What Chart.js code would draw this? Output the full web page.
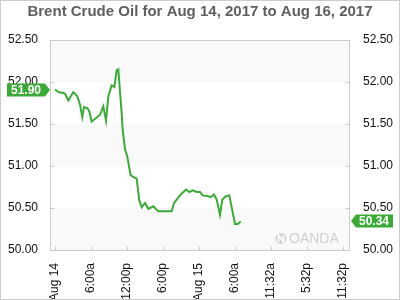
<!DOCTYPE html>
<html>
<head>
<meta charset="utf-8">
<script src="https://cdn.jsdelivr.net/npm/chart.js@4"></script>
<style>
  html, body { margin: 0; padding: 0; background: #fff; }
  #wrap { width: 400px; height: 300px; }
</style>
</head>
<body>
<div id="wrap"><canvas id="myChart" width="400" height="300"></canvas></div>
<script>
// hours since Aug 14 00:00 and Brent price
const hours = [0, 0.55, 1.39, 1.67, 2.22, 3.05, 3.72, 4.17, 4.55, 4.83, 5.39, 5.72, 6.11, 6.67, 7.5, 8.05, 8.5, 8.89,
  9.45, 9.89, 10.28, 10.55, 11.11, 11.28, 11.67, 12.05, 12.61, 13.05, 13.61, 14.05, 14.45, 15.0, 15.55, 16.39, 17.22,
  19.45, 19.83, 20.83, 21.83, 22.39, 22.95, 23.61, 24.17, 24.61, 25.55, 25.95, 26.5, 26.95, 27.5, 27.89, 28.5, 29.05,
  30.0, 30.45, 30.95]
const prices = [51.91, 51.88, 51.87, 51.86, 51.78, 51.88, 51.83, 51.73, 51.58, 51.70, 51.69, 51.65, 51.53, 51.56, 51.61,
  51.71, 51.54, 51.83, 51.96, 51.94, 52.14, 52.15, 51.63, 51.43, 51.20, 51.11, 50.89, 50.87, 50.85, 50.59, 50.51, 50.56,
  50.49, 50.52, 50.46, 50.46, 50.56, 50.65, 50.72, 50.69, 50.71, 50.69, 50.69, 50.65, 50.64, 50.63, 50.66, 50.60, 50.42,
  50.60, 50.64, 50.65, 50.31, 50.31, 50.34]
const tickHours = [0, 6, 12, 18, 24, 30, 36, 42, 48]
const tickLabels = ["Aug 14", "6:00a", "12:00p", "6:00p", "Aug 15", "6:00a", "11:32a", "5:32p", "11:32p"]
const firstLabel = "51.90"
const lastLabel = "50.34"

const green = "#3aab35"
const font = "'Liberation Sans', Arial, sans-serif"

const decorPlugin = {
  id: "decor",
  beforeDraw(chart) {
    const { ctx, chartArea: a, scales } = chart
    ctx.save()
    ctx.fillStyle = "#fff"
    ctx.fillRect(0, 0, chart.width, chart.height)
    // alternating bands
    const y = scales.y
    const bands = [[52, 52.5], [51, 51.5], [50, 50.5]]
    ctx.fillStyle = "#f9f9f9"
    bands.forEach(([lo, hi]) => {
      const top = y.getPixelForValue(hi)
      const bot = y.getPixelForValue(lo)
      ctx.fillRect(a.left, top, a.right - a.left, bot - top)
    })
    ctx.restore()
  },
  beforeDatasetsDraw(chart) {
    const { ctx, chartArea: a, scales } = chart
    ctx.save()
    // watermark
    ctx.fillStyle = "#d4d4d4"
    ctx.beginPath()
    ctx.arc(281, 238.5, 5.5, 0, Math.PI * 2)
    ctx.fill()
    ctx.strokeStyle = "#fff"
    ctx.lineWidth = 1.6
    ctx.beginPath()
    ctx.moveTo(278.5, 242)
    ctx.lineTo(278.5, 235)
    ctx.lineTo(283.5, 242)
    ctx.lineTo(283.5, 235)
    ctx.stroke()
    ctx.fillStyle = "#d0d0d0"
    ctx.font = "14px " + font
    ctx.textBaseline = "middle"
    ctx.textAlign = "left"
    ctx.fillText("OANDA", 289, 239)
    // plot frame
    ctx.strokeStyle = "#cccccc"
    ctx.lineWidth = 1
    const L = Math.round(a.left) + 0.5
    const R = Math.round(a.right) - 0.5
    const T = Math.round(a.top) + 0.5
    const B = Math.round(a.bottom) + 0.5
    ctx.strokeRect(L, T, R - L, B - T)
    // inward tick marks
    ctx.beginPath()
    scales.y.ticks.forEach((t) => {
      const py = Math.round(scales.y.getPixelForValue(t.value)) + 0.5
      ctx.moveTo(L, py)
      ctx.lineTo(L + 4, py)
      ctx.moveTo(R, py)
      ctx.lineTo(R - 4, py)
    })
    scales.x.ticks.forEach((t) => {
      const px = Math.round(scales.x.getPixelForValue(t.value)) + 0.5
      ctx.moveTo(px, B)
      ctx.lineTo(px, B - 4)
    })
    ctx.stroke()
    ctx.restore()
  },
  afterDraw(chart) {
    const { ctx, chartArea: a, scales } = chart
    const y = scales.y
    ctx.save()
    // outer frame
    ctx.strokeStyle = "#cccccc"
    ctx.lineWidth = 1
    ctx.strokeRect(0.5, 0.5, chart.width - 1, chart.height - 1)
    ctx.font = "bold 12px " + font
    ctx.textBaseline = "middle"
    ctx.textAlign = "center"
    // left price tag
    let py = Math.round(y.getPixelForValue(prices[0]))
    ctx.fillStyle = green
    ctx.beginPath()
    ctx.moveTo(7, py - 6.5)
    ctx.lineTo(a.left - 5, py - 6.5)
    ctx.lineTo(a.left, py)
    ctx.lineTo(a.left - 5, py + 6.5)
    ctx.lineTo(7, py + 6.5)
    ctx.closePath()
    ctx.fill()
    ctx.fillStyle = "#fff"
    ctx.fillText(firstLabel, 26, py + 0.5)
    // right price tag
    py = Math.round(y.getPixelForValue(prices[prices.length - 1]))
    ctx.fillStyle = green
    ctx.beginPath()
    ctx.moveTo(a.right + 1, py)
    ctx.lineTo(a.right + 6, py - 6.5)
    ctx.lineTo(393, py - 6.5)
    ctx.lineTo(393, py + 6.5)
    ctx.lineTo(a.right + 6, py + 6.5)
    ctx.closePath()
    ctx.fill()
    ctx.fillStyle = "#fff"
    ctx.fillText(lastLabel, 374, py + 0.5)
    ctx.restore()
  },
}

const ctx = document.getElementById("myChart").getContext("2d")
new Chart(ctx, {
  type: "line",
  data: {
    datasets: [
      {
        data: hours.map((h, i) => ({ x: h, y: prices[i] })),
        borderColor: green,
        borderWidth: 2,
        pointRadius: 0,
        tension: 0,
        fill: false,
        yAxisID: "y",
      },
    ],
  },
  options: {
    responsive: false,
    animation: false,
    layout: { padding: 0 },
    plugins: {
      legend: { display: false },
      tooltip: { enabled: false },
      title: {
        display: true,
        text: "Brent Crude Oil for Aug 14, 2017 to Aug 16, 2017",
        color: "#5f5f5f",
        font: { family: font, size: 15, weight: "bold", lineHeight: 1.2 },
        padding: { top: 3, bottom: 19 },
      },
    },
    scales: {
      x: {
        type: "linear",
        min: -5 / 6,
        max: 49 + 1 / 6,
        afterBuildTicks: (scale) => {
          scale.ticks = tickHours.map((v) => ({ value: v }))
        },
        afterFit: (scale) => {
          scale.height = 50
        },
        ticks: {
          autoSkip: false,
          minRotation: 90,
          maxRotation: 90,
          padding: 5,
          color: "#111",
          font: { family: font, size: 12 },
          callback: (v, i) => tickLabels[i],
        },
        grid: { display: false },
        border: { display: false },
      },
      y: {
        position: "left",
        min: 50,
        max: 52.5,
        afterFit: (scale) => {
          scale.width = 50
        },
        ticks: {
          stepSize: 0.5,
          padding: 4,
          color: "#111",
          font: { family: font, size: 12 },
          callback: (v) => v.toFixed(2),
        },
        grid: { display: false },
        border: { display: false },
      },
      y2: {
        position: "right",
        min: 50,
        max: 52.5,
        afterFit: (scale) => {
          scale.width = 50
        },
        ticks: {
          stepSize: 0.5,
          padding: 5,
          color: "#111",
          font: { family: font, size: 12 },
          callback: (v) => v.toFixed(2),
        },
        grid: { display: false },
        border: { display: false },
      },
    },
  },
  plugins: [decorPlugin],
})
</script>
</body>
</html>
